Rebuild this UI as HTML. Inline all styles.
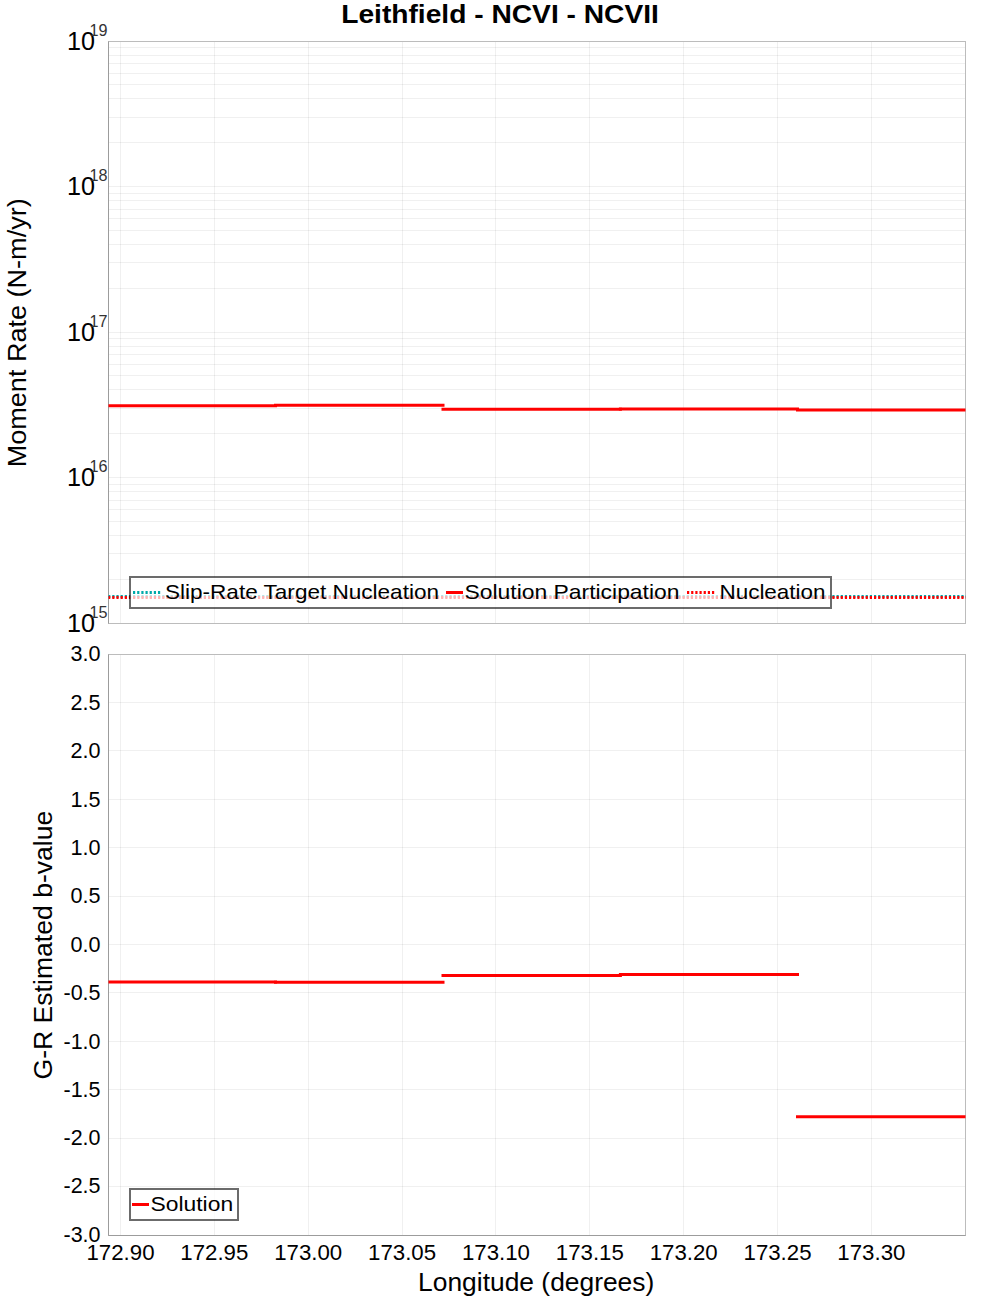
<!DOCTYPE html><html><head><meta charset="utf-8"><style>html,body{margin:0;padding:0;background:#fff;width:1000px;height:1300px;overflow:hidden}svg{display:block}text{font-family:"Liberation Sans",sans-serif;fill:#000}</style></head><body>
<svg width="1000" height="1300" viewBox="0 0 1000 1300">
<rect x="0" y="0" width="1000" height="1300" fill="#fff"/>
<path d="M120.50 41.5V623.5M214.50 41.5V623.5M308.50 41.5V623.5M402.50 41.5V623.5M495.50 41.5V623.5M589.50 41.5V623.5M683.50 41.5V623.5M777.50 41.5V623.5M871.50 41.5V623.5" stroke="#000" stroke-opacity="0.058" stroke-width="1" fill="none"/>
<path d="M108.5 579.50H965.5M108.5 553.50H965.5M108.5 535.50H965.5M108.5 521.50H965.5M108.5 509.50H965.5M108.5 500.50H965.5M108.5 491.50H965.5M108.5 484.50H965.5M108.5 477.50H965.5M108.5 433.50H965.5M108.5 408.50H965.5M108.5 389.50H965.5M108.5 375.50H965.5M108.5 364.50H965.5M108.5 354.50H965.5M108.5 346.50H965.5M108.5 338.50H965.5M108.5 332.50H965.5M108.5 288.50H965.5M108.5 262.50H965.5M108.5 244.50H965.5M108.5 230.50H965.5M108.5 218.50H965.5M108.5 209.50H965.5M108.5 200.50H965.5M108.5 193.50H965.5M108.5 186.50H965.5M108.5 142.50H965.5M108.5 117.50H965.5M108.5 98.50H965.5M108.5 84.50H965.5M108.5 73.50H965.5M108.5 63.50H965.5M108.5 55.50H965.5M108.5 47.50H965.5" stroke="#000" stroke-opacity="0.058" stroke-width="1" fill="none"/>
<path d="M120.50 654.5V1235.5M214.50 654.5V1235.5M308.50 654.5V1235.5M402.50 654.5V1235.5M495.50 654.5V1235.5M589.50 654.5V1235.5M683.50 654.5V1235.5M777.50 654.5V1235.5M871.50 654.5V1235.5" stroke="#000" stroke-opacity="0.058" stroke-width="1" fill="none"/>
<path d="M108.5 702.50H965.5M108.5 750.50H965.5M108.5 799.50H965.5M108.5 847.50H965.5M108.5 896.50H965.5M108.5 944.50H965.5M108.5 992.50H965.5M108.5 1041.50H965.5M108.5 1089.50H965.5M108.5 1138.50H965.5M108.5 1186.50H965.5" stroke="#000" stroke-opacity="0.058" stroke-width="1" fill="none"/>
<rect x="108.5" y="41.5" width="857.0" height="582.0" fill="none" stroke="#bcbcbc" stroke-width="1"/>
<rect x="108.5" y="654.5" width="857.0" height="581.0" fill="none" stroke="#bcbcbc" stroke-width="1"/>
<path d="M108.5 41.5V623.5M108.5 654.5V1235.5H965.5" fill="none" stroke="#9c9c9c" stroke-width="1"/>
<defs><clipPath id="cu"><rect x="108.5" y="41.5" width="857.0" height="582.0"/></clipPath><clipPath id="cl"><rect x="108.5" y="654.5" width="857.0" height="581.0"/></clipPath></defs>
<g clip-path="url(#cu)">
<path d="M108.1 596.5H966" stroke="#00aaaa" stroke-width="3" stroke-dasharray="2.2 1.9624" fill="none"/>
<path d="M108.1 597.5H966" stroke="#ff0000" stroke-width="3" stroke-dasharray="2.2 1.9624" fill="none"/>
<path d="M108.5 405.8H275.5" stroke="#f00" stroke-width="3" stroke-linecap="square" fill="none"/>
<path d="M275.5 405.2H443.0" stroke="#f00" stroke-width="3" stroke-linecap="square" fill="none"/>
<path d="M443.0 409.2H620.4" stroke="#f00" stroke-width="3" stroke-linecap="square" fill="none"/>
<path d="M620.4 409.0H797.5" stroke="#f00" stroke-width="3" stroke-linecap="square" fill="none"/>
<path d="M797.5 409.9H965.5" stroke="#f00" stroke-width="3" stroke-linecap="square" fill="none"/>
</g>
<g clip-path="url(#cl)">
<path d="M108.5 982.0H275.5" stroke="#f00" stroke-width="3" stroke-linecap="square" fill="none"/>
<path d="M275.5 982.2H443.0" stroke="#f00" stroke-width="3" stroke-linecap="square" fill="none"/>
<path d="M443.0 975.4H620.4" stroke="#f00" stroke-width="3" stroke-linecap="square" fill="none"/>
<path d="M620.4 974.4H797.5" stroke="#f00" stroke-width="3" stroke-linecap="square" fill="none"/>
<path d="M797.5 1116.8H965.5" stroke="#f00" stroke-width="3" stroke-linecap="square" fill="none"/>
</g>
<rect x="130" y="577" width="701" height="31" fill="#fff" fill-opacity="0.7"/>
<path d="M130 577H831M831 577V608M831 608H130M130 608V577" stroke="#000" stroke-opacity="0.58" stroke-width="2" stroke-linecap="square" fill="none"/>
<path d="M133 592.5H161" stroke="#00aaaa" stroke-width="3" stroke-dasharray="2.2 1.9624" fill="none"/>
<path d="M446 592.5H463" stroke="#f00" stroke-width="3" fill="none"/>
<path d="M687 592.5H715" stroke="#f00" stroke-width="3" stroke-dasharray="2.2 1.9624" fill="none"/>
<text x="165" y="598.8" font-size="20.8" textLength="274" lengthAdjust="spacingAndGlyphs" >Slip-Rate Target Nucleation</text>
<text x="464.5" y="598.8" font-size="20.8" textLength="215" lengthAdjust="spacingAndGlyphs" >Solution Participation</text>
<text x="719.5" y="598.8" font-size="20.8" textLength="106" lengthAdjust="spacingAndGlyphs" >Nucleation</text>
<rect x="130" y="1189" width="108" height="31" fill="#fff" fill-opacity="0.7"/>
<path d="M130 1189H238M238 1189V1220M238 1220H130M130 1220V1189" stroke="#000" stroke-opacity="0.58" stroke-width="2" stroke-linecap="square" fill="none"/>
<path d="M132 1204.5H149" stroke="#f00" stroke-width="3" fill="none"/>
<text x="150.5" y="1210.8" font-size="20.8" textLength="82.6" lengthAdjust="spacingAndGlyphs" >Solution</text>
<text x="341.2" y="23" font-size="25.5" textLength="317.7" lengthAdjust="spacingAndGlyphs" font-weight="bold">Leithfield - NCVI - NCVII</text>
<text x="120.50" y="1260" font-size="21.7" text-anchor="middle" textLength="68" lengthAdjust="spacingAndGlyphs">172.90</text>
<text x="214.36" y="1260" font-size="21.7" text-anchor="middle" textLength="68" lengthAdjust="spacingAndGlyphs">172.95</text>
<text x="308.22" y="1260" font-size="21.7" text-anchor="middle" textLength="68" lengthAdjust="spacingAndGlyphs">173.00</text>
<text x="402.08" y="1260" font-size="21.7" text-anchor="middle" textLength="68" lengthAdjust="spacingAndGlyphs">173.05</text>
<text x="495.94" y="1260" font-size="21.7" text-anchor="middle" textLength="68" lengthAdjust="spacingAndGlyphs">173.10</text>
<text x="589.80" y="1260" font-size="21.7" text-anchor="middle" textLength="68" lengthAdjust="spacingAndGlyphs">173.15</text>
<text x="683.66" y="1260" font-size="21.7" text-anchor="middle" textLength="68" lengthAdjust="spacingAndGlyphs">173.20</text>
<text x="777.52" y="1260" font-size="21.7" text-anchor="middle" textLength="68" lengthAdjust="spacingAndGlyphs">173.25</text>
<text x="871.38" y="1260" font-size="21.7" text-anchor="middle" textLength="68" lengthAdjust="spacingAndGlyphs">173.30</text>
<text x="418.1" y="1291.1" font-size="25" textLength="236.2" lengthAdjust="spacingAndGlyphs" >Longitude (degrees)</text>
<text x="100.5" y="660.70" font-size="21.7" text-anchor="end" textLength="30" lengthAdjust="spacingAndGlyphs">3.0</text>
<text x="100.5" y="709.70" font-size="21.7" text-anchor="end" textLength="30" lengthAdjust="spacingAndGlyphs">2.5</text>
<text x="100.5" y="757.70" font-size="21.7" text-anchor="end" textLength="30" lengthAdjust="spacingAndGlyphs">2.0</text>
<text x="100.5" y="806.70" font-size="21.7" text-anchor="end" textLength="30" lengthAdjust="spacingAndGlyphs">1.5</text>
<text x="100.5" y="854.70" font-size="21.7" text-anchor="end" textLength="30" lengthAdjust="spacingAndGlyphs">1.0</text>
<text x="100.5" y="902.70" font-size="21.7" text-anchor="end" textLength="30" lengthAdjust="spacingAndGlyphs">0.5</text>
<text x="100.5" y="951.70" font-size="21.7" text-anchor="end" textLength="30" lengthAdjust="spacingAndGlyphs">0.0</text>
<text x="100.5" y="999.70" font-size="21.7" text-anchor="end" textLength="37" lengthAdjust="spacingAndGlyphs">-0.5</text>
<text x="100.5" y="1048.70" font-size="21.7" text-anchor="end" textLength="37" lengthAdjust="spacingAndGlyphs">-1.0</text>
<text x="100.5" y="1096.70" font-size="21.7" text-anchor="end" textLength="37" lengthAdjust="spacingAndGlyphs">-1.5</text>
<text x="100.5" y="1144.70" font-size="21.7" text-anchor="end" textLength="37" lengthAdjust="spacingAndGlyphs">-2.0</text>
<text x="100.5" y="1192.70" font-size="21.7" text-anchor="end" textLength="37" lengthAdjust="spacingAndGlyphs">-2.5</text>
<text x="100.5" y="1241.70" font-size="21.7" text-anchor="end" textLength="37" lengthAdjust="spacingAndGlyphs">-3.0</text>
<text x="67" y="631.80" font-size="26.2" textLength="28" lengthAdjust="spacingAndGlyphs">10</text>
<text x="89.5" y="617.90" font-size="16.5" textLength="18" lengthAdjust="spacingAndGlyphs" style="fill:#333">15</text>
<text x="67" y="486.30" font-size="26.2" textLength="28" lengthAdjust="spacingAndGlyphs">10</text>
<text x="89.5" y="472.40" font-size="16.5" textLength="18" lengthAdjust="spacingAndGlyphs" style="fill:#333">16</text>
<text x="67" y="340.80" font-size="26.2" textLength="28" lengthAdjust="spacingAndGlyphs">10</text>
<text x="89.5" y="326.90" font-size="16.5" textLength="18" lengthAdjust="spacingAndGlyphs" style="fill:#333">17</text>
<text x="67" y="195.30" font-size="26.2" textLength="28" lengthAdjust="spacingAndGlyphs">10</text>
<text x="89.5" y="181.40" font-size="16.5" textLength="18" lengthAdjust="spacingAndGlyphs" style="fill:#333">18</text>
<text x="67" y="49.80" font-size="26.2" textLength="28" lengthAdjust="spacingAndGlyphs">10</text>
<text x="89.5" y="35.90" font-size="16.5" textLength="18" lengthAdjust="spacingAndGlyphs" style="fill:#333">19</text>
<text transform="translate(26.2 467.3) rotate(-90)" x="0" y="0" font-size="25" textLength="269" lengthAdjust="spacingAndGlyphs">Moment Rate (N-m/yr)</text>
<text transform="translate(52 1079.5) rotate(-90)" x="0" y="0" font-size="25" textLength="268.8" lengthAdjust="spacingAndGlyphs">G-R Estimated b-value</text>
</svg></body></html>
